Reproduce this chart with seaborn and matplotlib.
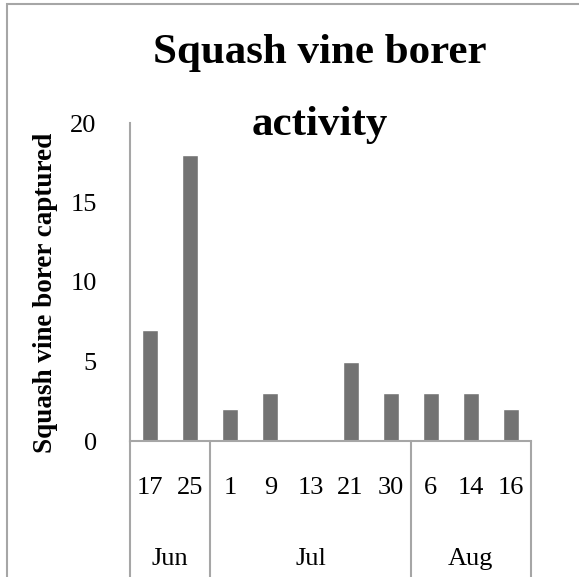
import numpy as np
import pandas as pd
import seaborn as sns
import matplotlib.pyplot as plt
from matplotlib.patches import Rectangle
from matplotlib import transforms

# data
days = ['17', '25', '1', '9', '13', '21', '30', '6', '14', '16']
months = ['Jun', 'Jun', 'Jul', 'Jul', 'Jul', 'Jul', 'Jul', 'Aug', 'Aug', 'Aug']
captured = [7, 18, 2, 3, 0, 5, 3, 3, 3, 2]

df = pd.DataFrame({'day': days, 'month': months, 'captured': captured})

sns.set_style('white')
plt.rcParams['font.family'] = ['Liberation Serif', 'DejaVu Serif']
plt.rcParams['text.color'] = 'black'
plt.rcParams['axes.labelcolor'] = 'black'
plt.rcParams['xtick.color'] = 'black'
plt.rcParams['ytick.color'] = 'black'

axis_grey = '#a6a6a6'
bar_grey = '#737373'

fig = plt.figure(figsize=(5.79, 5.77), dpi=100)
ax = fig.add_axes([130 / 579, 136 / 577, 401 / 579, 318 / 577])

sns.barplot(data=df, x='day', y='captured', order=days, color=bar_grey,
            width=0.4, saturation=1, ax=ax)

ax.set_ylim(0, 20)
ax.set_xlim(-0.5, len(days) - 0.5)
ax.set_yticks([0, 5, 10, 15, 20])
ax.tick_params(axis='y', length=0, pad=24, labelsize=19)
ax.tick_params(axis='x', length=0, pad=26, labelsize=19)
ax.set_xlabel('')
ax.set_ylabel('Squash vine borer captured', fontsize=19.5, fontweight='bold')
ax.yaxis.set_label_coords(-0.18, 0.465)

sns.despine(ax=ax)
for side in ['left', 'bottom']:
    ax.spines[side].set_color(axis_grey)
    ax.spines[side].set_linewidth(1.5)

# month groups on the category axis
trans = transforms.blended_transform_factory(ax.transData, ax.transAxes)
month_order = list(dict.fromkeys(months))
idx = np.arange(len(days))
for m in month_order:
    pos = idx[np.array(months) == m]
    ax.text(pos.mean(), -0.37, m, transform=trans, ha='center', va='center',
            fontsize=19)
    ax.plot([pos.min() - 0.5] * 2, [0, -0.5], transform=trans, color=axis_grey,
            lw=1.5, clip_on=False)
ax.plot([len(days) - 0.5] * 2, [0, -0.5], transform=trans, color=axis_grey,
        lw=1.5, clip_on=False)

fig.text(320 / 579, 1 - 89 / 577, 'Squash vine borer\nactivity', ha='center',
         va='center', fontsize=31, fontweight='bold', linespacing=2.2)

# chart area border, running off the right and bottom edges
top = 1 - 4 / 577
fig.add_artist(Rectangle((7 / 579, -0.2), 1.2, top + 0.2,
                         transform=fig.transFigure, fill=False,
                         edgecolor=axis_grey, lw=1.5))

fig.savefig('out.png', dpi=100)
